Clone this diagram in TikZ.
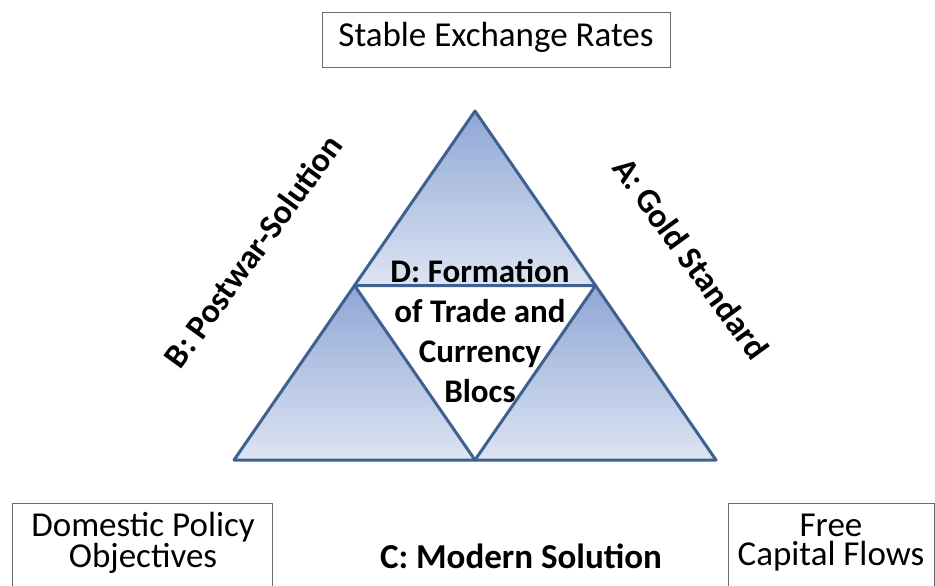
\documentclass[tikz,border=0pt]{standalone}
\usepackage{fontspec}
\setmainfont{Carlito}
\begin{document}
\begin{tikzpicture}[x=1pt,y=-1pt]
\useasboundingbox (0,0) rectangle (935,586);
\definecolor{edgeblue}{HTML}{3F6190}
\definecolor{topblue}{HTML}{8FA7D6}
\definecolor{botblue}{HTML}{DDE4F3}
\definecolor{boxline}{HTML}{6A6A6A}
\tikzset{
  boxstyle/.style={draw=boxline, line width=1.4pt, fill=white, inner sep=0pt},
  boxtext/.style={font=\fontsize{35}{29}\selectfont, align=center, inner sep=0pt},
  lbl/.style={font=\fontsize{34}{40}\selectfont\bfseries, inner sep=0pt},
  clbl/.style={font=\fontsize{35}{40}\selectfont\bfseries, inner sep=0pt},
  dtext/.style={font=\fontsize{33}{40}\selectfont\bfseries, align=center, inner sep=0pt},
  part/.style={top color=topblue, bottom color=botblue},
  edge/.style={draw=edgeblue, line width=3pt, line join=round},
}
% triangle geometry
\coordinate (T) at (475,111);
\coordinate (L) at (234,460);
\coordinate (R) at (716,460);
\coordinate (ML) at (354.5,285.5);
\coordinate (MR) at (595.5,285.5);
\coordinate (MB) at (475,460);
\shade[part] (T) -- (ML) -- (MR) -- cycle;
\shade[part] (ML) -- (L) -- (MB) -- cycle;
\shade[part] (MR) -- (MB) -- (R) -- cycle;
\draw[edge] (T) -- (L) -- (R) -- cycle;
\draw[edge] (ML) -- (MR) -- (MB) -- cycle;

% boxes
\node[boxstyle, minimum width=348, minimum height=55, anchor=north west] (topbox) at (322,12) {};
\node[boxtext, anchor=base] (toptext) at (496,47) {Stable Exchange Rates};
\node[boxstyle, minimum width=260, minimum height=100, anchor=north west] (dombox) at (12,503) {};
\node[boxtext] (domtext) at (143,543) {Domestic Policy\\Objectives};
\node[boxstyle, minimum width=206, minimum height=100, anchor=north west] (freebox) at (728,503) {};
\node[boxtext] (freetext) at (831,543) {Free\\Capital Flows};

% labels
\node[lbl, rotate=54] (blabel) at (253,251) {B: Postwar-Solution};
\node[lbl, rotate=-54] (alabel) at (691,258) {A: Gold Standard};
\node[clbl, anchor=base] (clabel) at (521,568) {C: Modern Solution};
\node[dtext] (dlabel) at (480,331) {D: Formation\\of Trade and\\Currency\\Blocs};
\end{tikzpicture}
\end{document}
